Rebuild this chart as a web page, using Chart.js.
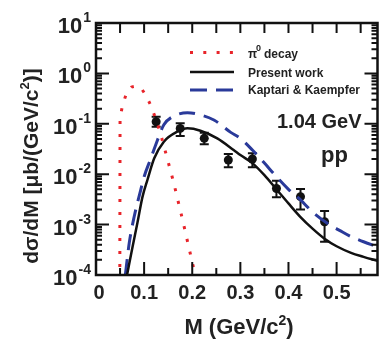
<!DOCTYPE html>
<html>
<head>
<meta charset="utf-8">
<script src="https://cdn.jsdelivr.net/npm/chart.js@4.4.1/dist/chart.umd.min.js"></script>
<style>
  html, body { margin: 0; padding: 0; background: #fff; }
  canvas { display: block; }
</style>
</head>
<body>
<canvas id="chart" width="382" height="339"></canvas>
<script>
// measured points (mass in GeV/c^2, cross section in ub/(GeV/c^2))
const dataM = [0.125, 0.175, 0.225, 0.275, 0.325, 0.375, 0.425, 0.475];
const dataY = [0.110, 0.081, 0.0515, 0.0191, 0.020, 0.0052, 0.00358, 0.00114];
const dataHi = [0.138, 0.102, 0.0667, 0.0251, 0.026, 0.0074, 0.0051, 0.00186];
const dataLo = [0.0875, 0.0575, 0.0392, 0.0137, 0.0137, 0.0035, 0.0020, 0.000457];

// pi0 Dalitz decay (log10 of dsigma/dM)
const piM = [0.0495, 0.0500, 0.0550, 0.0640, 0.0740, 0.0850, 0.0950, 0.1035, 0.1150, 0.1240, 0.1330, 0.1470, 0.1610, 0.1800, 0.1920, 0.2040, 0.2070];
const piLog = [-4.1, -0.9, -0.63, -0.38, -0.27, -0.25, -0.31, -0.43, -0.66, -0.9, -1.157, -1.65, -2.15, -2.91, -3.41, -3.91, -4.05];

// present work
const presM = [0.0645, 0.076, 0.086, 0.0966, 0.107, 0.121, 0.141, 0.169, 0.19, 0.217, 0.252, 0.286, 0.3, 0.325, 0.35, 0.375, 0.4, 0.424, 0.45, 0.475, 0.5, 0.53, 0.556, 0.585];
const presLog = [-4.0, -3.44, -2.97, -2.45, -2.11, -1.685, -1.355, -1.157, -1.09, -1.137, -1.29, -1.52, -1.62, -1.78, -2.02, -2.30, -2.58, -2.84, -3.08, -3.28, -3.43, -3.56, -3.64, -3.72];

// Kaptari & Kaempfer
const kkM = [0.061, 0.069, 0.0794, 0.093, 0.1, 0.114, 0.124, 0.141, 0.159, 0.19, 0.21, 0.245, 0.28, 0.3, 0.325, 0.35, 0.375, 0.4, 0.424, 0.45, 0.48, 0.507, 0.53, 0.556, 0.585];
const kkLog = [-4.0, -3.37, -2.84, -2.31, -2.05, -1.685, -1.42, -1.02, -0.86, -0.78, -0.806, -0.925, -1.17, -1.29, -1.52, -1.78, -2.05, -2.30, -2.50, -2.75, -2.97, -3.12, -3.24, -3.34, -3.44];

const xTicks = [0, 0.1, 0.2, 0.3, 0.4, 0.5];
const yDecades = [1, 0, -1, -2, -3, -4];

function toPoints(xs, logs) {
    return xs.map((x, i) => ({ x: x, y: Math.pow(10, logs[i]) }));
}

const FONT = "'Liberation Sans', Arial, sans-serif";

const decorations = {
    id: 'decorations',
    beforeDatasetsDraw(chart) {
        const ctx = chart.ctx;
        const xs = chart.scales.x, ys = chart.scales.y;
        ctx.save();
        ctx.strokeStyle = '#111';
        ctx.lineWidth = 2;
        dataM.forEach((m, i) => {
            const px = xs.getPixelForValue(m);
            const top = ys.getPixelForValue(dataHi[i]);
            const bot = ys.getPixelForValue(dataLo[i]);
            ctx.beginPath();
            ctx.moveTo(px, top); ctx.lineTo(px, bot);
            ctx.moveTo(px - 4.5, top); ctx.lineTo(px + 4.5, top);
            ctx.moveTo(px - 4.5, bot); ctx.lineTo(px + 4.5, bot);
            ctx.stroke();
        });
        ctx.restore();
    },
    afterDraw(chart) {
        const ctx = chart.ctx;
        const a = chart.chartArea;
        const xs = chart.scales.x, ys = chart.scales.y;
        ctx.save();
        ctx.strokeStyle = '#111';
        ctx.fillStyle = '#222';

        // frame
        ctx.lineWidth = 2.5;
        ctx.strokeRect(a.left, a.top, a.right - a.left, a.bottom - a.top);

        // x ticks (inward, top and bottom)
        ctx.lineWidth = 2;
        ctx.beginPath();
        for (let k = 0; k <= 11; k++) {
            const v = k * 0.05;
            if (v > xs.max) break;
            const px = xs.getPixelForValue(v);
            const major = k % 2 === 0;
            ctx.moveTo(px, a.bottom); ctx.lineTo(px, a.bottom - (major ? 13 : 7));
            ctx.moveTo(px, a.top); ctx.lineTo(px, a.top + 10);
        }
        ctx.stroke();

        // y ticks (inward, left and right)
        ctx.beginPath();
        for (let d = -4; d <= 1; d++) {
            const py = ys.getPixelForValue(Math.pow(10, d));
            ctx.moveTo(a.left, py); ctx.lineTo(a.left + 13, py);
            ctx.moveTo(a.right, py); ctx.lineTo(a.right - 13, py);
            if (d === 1) continue;
            for (let m = 2; m <= 9; m++) {
                const pm = ys.getPixelForValue(m * Math.pow(10, d));
                ctx.moveTo(a.left, pm); ctx.lineTo(a.left + 6, pm);
                ctx.moveTo(a.right, pm); ctx.lineTo(a.right - 6, pm);
            }
        }
        ctx.stroke();

        // x tick labels
        ctx.font = 'bold 20px ' + FONT;
        ctx.textAlign = 'center';
        ctx.textBaseline = 'alphabetic';
        xTicks.forEach(v => {
            const px = xs.getPixelForValue(v);
            ctx.fillText(v === 0 ? '0' : v.toFixed(1), px + (v === 0 ? 3 : 0), 299);
        });

        // y tick labels 10^n
        yDecades.forEach(d => {
            const py = ys.getPixelForValue(Math.pow(10, d));
            ctx.font = 'bold 14px ' + FONT;
            const exp = String(d).replace('-', '-');
            const ew = ctx.measureText(exp).width;
            ctx.textAlign = 'left';
            ctx.fillText(exp, 91 - ew, py - 1);
            ctx.font = 'bold 22px ' + FONT;
            ctx.textAlign = 'right';
            ctx.fillText('10', 91 - ew - 1, py + 10);
        });

        // x title
        ctx.font = 'bold 22px ' + FONT;
        ctx.textAlign = 'left';
        const t1 = 'M (GeV/c', t2 = ')';
        ctx.font = 'bold 22px ' + FONT;
        const w1 = ctx.measureText(t1).width;
        ctx.font = 'bold 14px ' + FONT;
        const ws = ctx.measureText('2').width;
        ctx.font = 'bold 22px ' + FONT;
        const w2 = ctx.measureText(t2).width;
        let x0 = 239 - (w1 + ws + w2) / 2;
        ctx.fillText(t1, x0, 334);
        ctx.font = 'bold 14px ' + FONT;
        ctx.fillText('2', x0 + w1, 325);
        ctx.font = 'bold 22px ' + FONT;
        ctx.fillText(t2, x0 + w1 + ws, 334);

        // y title (rotated)
        ctx.save();
        ctx.translate(38, 166);
        ctx.rotate(-Math.PI / 2);
        const y1 = 'd\u03c3/dM [\u03bcb/(GeV/c', y2 = ')]';
        ctx.font = 'bold 21px ' + FONT;
        const yw1 = ctx.measureText(y1).width;
        const yw2 = ctx.measureText(y2).width;
        ctx.font = 'bold 13px ' + FONT;
        const yws = ctx.measureText('2').width;
        let y0 = -(yw1 + yws + yw2) / 2;
        ctx.font = 'bold 21px ' + FONT;
        ctx.fillText(y1, y0, 0);
        ctx.font = 'bold 13px ' + FONT;
        ctx.fillText('2', y0 + yw1, -9);
        ctx.font = 'bold 21px ' + FONT;
        ctx.fillText(y2, y0 + yw1 + yws, 0);
        ctx.restore();

        // legend
        ctx.lineCap = 'butt';
        ctx.strokeStyle = '#e8242a';
        ctx.lineWidth = 3;
        ctx.setLineDash([3, 10.3]);
        ctx.beginPath(); ctx.moveTo(190, 52.5); ctx.lineTo(234, 52.5); ctx.stroke();
        ctx.strokeStyle = '#111';
        ctx.lineWidth = 2.5;
        ctx.setLineDash([]);
        ctx.beginPath(); ctx.moveTo(190, 72); ctx.lineTo(234, 72); ctx.stroke();
        ctx.strokeStyle = '#2a3a9a';
        ctx.lineWidth = 3;
        ctx.setLineDash([17, 9]);
        ctx.beginPath(); ctx.moveTo(190, 90); ctx.lineTo(234, 90); ctx.stroke();
        ctx.setLineDash([]);

        ctx.fillStyle = '#222';
        ctx.textAlign = 'left';
        ctx.font = 'bold 12px ' + FONT;
        ctx.fillText('\u03c0', 248, 58);
        ctx.font = 'bold 9px ' + FONT;
        ctx.fillText('0', 256, 51);
        ctx.font = 'bold 12px ' + FONT;
        ctx.fillText('decay', 264, 58);
        ctx.fillText('Present work', 248, 77);
        ctx.fillText('Kaptari & Kaempfer', 248, 94);

        // annotations
        ctx.font = 'bold 20px ' + FONT;
        ctx.fillText('1.04 GeV', 277, 128);
        ctx.font = 'bold 22px ' + FONT;
        ctx.fillText('pp', 321, 162);

        ctx.restore();
    }
};

new Chart(document.getElementById('chart'), {
    type: 'line',
    data: {
        datasets: [
            {
                label: 'pi0 decay',
                data: toPoints(piM, piLog),
                borderColor: '#e8242a',
                borderWidth: 3,
                borderDash: [3, 10],
                borderCapStyle: 'butt',
                pointRadius: 0,
                tension: 0
            },
            {
                label: 'Present work',
                data: toPoints(presM, presLog),
                borderColor: '#111',
                borderWidth: 2.5,
                pointRadius: 0,
                cubicInterpolationMode: 'monotone'
            },
            {
                label: 'Kaptari & Kaempfer',
                data: toPoints(kkM, kkLog),
                borderColor: '#2a3a9a',
                borderWidth: 3,
                borderDash: [16, 9],
                pointRadius: 0,
                cubicInterpolationMode: 'monotone'
            },
            {
                label: 'data',
                data: dataM.map((m, i) => ({ x: m, y: dataY[i] })),
                showLine: false,
                pointRadius: 4.5,
                pointBackgroundColor: '#111',
                pointBorderColor: '#111',
                pointBorderWidth: 0
            }
        ]
    },
    options: {
        responsive: false,
        animation: false,
        events: [],
        layout: { padding: { left: 96, right: 4, top: 23, bottom: 64 } },
        plugins: { legend: { display: false }, tooltip: { enabled: false } },
        scales: {
            x: { type: 'linear', min: 0, max: 0.585, display: false },
            y: { type: 'logarithmic', min: 1e-4, max: 10, display: false }
        }
    },
    plugins: [decorations]
});
</script>
</body>
</html>
